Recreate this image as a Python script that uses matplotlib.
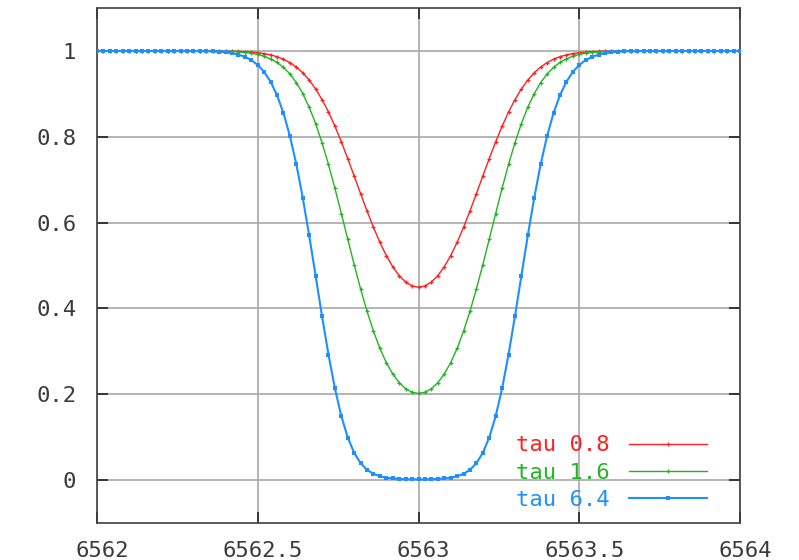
import matplotlib
matplotlib.use("Agg")
import matplotlib.pyplot as plt
from matplotlib.transforms import ScaledTranslation

# wavelengths (Angstrom)
wavelength = [
    6562.00, 6562.02, 6562.04, 6562.06, 6562.08, 6562.10, 6562.12, 6562.14, 6562.16, 6562.18,
    6562.20, 6562.22, 6562.24, 6562.26, 6562.28, 6562.30, 6562.32, 6562.34, 6562.36, 6562.38,
    6562.40, 6562.42, 6562.44, 6562.46, 6562.48, 6562.50, 6562.52, 6562.54, 6562.56, 6562.58,
    6562.60, 6562.62, 6562.64, 6562.66, 6562.68, 6562.70, 6562.72, 6562.74, 6562.76, 6562.78,
    6562.80, 6562.82, 6562.84, 6562.86, 6562.88, 6562.90, 6562.92, 6562.94, 6562.96, 6562.98,
    6563.00,
    6563.02, 6563.04, 6563.06, 6563.08, 6563.10, 6563.12, 6563.14, 6563.16, 6563.18, 6563.20,
    6563.22, 6563.24, 6563.26, 6563.28, 6563.30, 6563.32, 6563.34, 6563.36, 6563.38, 6563.40,
    6563.42, 6563.44, 6563.46, 6563.48, 6563.50, 6563.52, 6563.54, 6563.56, 6563.58, 6563.60,
    6563.62, 6563.64, 6563.66, 6563.68, 6563.70, 6563.72, 6563.74, 6563.76, 6563.78, 6563.80,
    6563.82, 6563.84, 6563.86, 6563.88, 6563.90, 6563.92, 6563.94, 6563.96, 6563.98, 6564.00]

tau_08 = [
    1.0, 1.0, 1.0, 1.0, 1.0, 1.0, 1.0, 1.0, 1.0, 1.0,
    1.0, 1.0, 1.0, 1.0, 1.0, 0.99997, 0.99995, 0.99992, 0.99986, 0.99975,
    0.99959, 0.99933, 0.99891, 0.99827, 0.99730, 0.99585, 0.99374, 0.99071, 0.98648, 0.98064,
    0.97277, 0.96239, 0.94900, 0.93214, 0.91141, 0.88654, 0.85752, 0.82454, 0.78812, 0.74904,
    0.70835, 0.66724, 0.62698, 0.58881, 0.55383, 0.52298, 0.49697, 0.47634, 0.46139, 0.45235,
    0.44933,
    0.45235, 0.46139, 0.47634, 0.49697, 0.52298, 0.55383, 0.58881, 0.62698, 0.66724, 0.70835,
    0.74904, 0.78812, 0.82454, 0.85752, 0.88654, 0.91141, 0.93214, 0.94900, 0.96239, 0.97277,
    0.98064, 0.98648, 0.99071, 0.99374, 0.99585, 0.99730, 0.99827, 0.99891, 0.99933, 0.99959,
    0.99975, 0.99986, 0.99992, 0.99995, 0.99997, 1.0, 1.0, 1.0, 1.0, 1.0,
    1.0, 1.0, 1.0, 1.0, 1.0, 1.0, 1.0, 1.0, 1.0, 1.0]

tau_16 = [
    1.0, 1.0, 1.0, 1.0, 1.0, 1.0, 1.0, 1.0, 1.0, 1.0,
    1.0, 1.0, 1.0, 1.0, 0.99997, 0.99995, 0.99990, 0.99983, 0.99971, 0.99951,
    0.99918, 0.99866, 0.99782, 0.99654, 0.99461, 0.99172, 0.98752, 0.98151, 0.97314, 0.96165,
    0.94628, 0.92619, 0.90060, 0.86889, 0.83067, 0.78595, 0.73534, 0.67987, 0.62113, 0.56106,
    0.50176, 0.44521, 0.39310, 0.34670, 0.30673, 0.27351, 0.24698, 0.22690, 0.21288, 0.20462,
    0.20190,
    0.20462, 0.21288, 0.22690, 0.24698, 0.27351, 0.30673, 0.34670, 0.39310, 0.44521, 0.50176,
    0.56106, 0.62113, 0.67987, 0.73534, 0.78595, 0.83067, 0.86889, 0.90060, 0.92619, 0.94628,
    0.96165, 0.97314, 0.98151, 0.98752, 0.99172, 0.99461, 0.99654, 0.99782, 0.99866, 0.99918,
    0.99951, 0.99971, 0.99983, 0.99990, 0.99995, 0.99997, 1.0, 1.0, 1.0, 1.0,
    1.0, 1.0, 1.0, 1.0, 1.0, 1.0, 1.0, 1.0, 1.0, 1.0]

tau_64 = [
    1.0, 1.0, 1.0, 1.0, 1.0, 1.0, 1.0, 1.0, 1.0, 1.0,
    1.0, 1.0, 0.99997, 0.99994, 0.99988, 0.99979, 0.99962, 0.99933, 0.99884, 0.99804,
    0.99672, 0.99465, 0.99131, 0.98623, 0.97861, 0.96729, 0.95101, 0.92807, 0.89681, 0.85520,
    0.80182, 0.73587, 0.65785, 0.56998, 0.47612, 0.38157, 0.29238, 0.21365, 0.14884, 0.09909,
    0.06339, 0.03929, 0.02388, 0.01445, 0.00885, 0.00560, 0.00372, 0.00265, 0.00205, 0.00175,
    0.00166,
    0.00175, 0.00205, 0.00265, 0.00372, 0.00560, 0.00885, 0.01445, 0.02388, 0.03929, 0.06339,
    0.09909, 0.14884, 0.21365, 0.29238, 0.38157, 0.47612, 0.56998, 0.65785, 0.73587, 0.80182,
    0.85520, 0.89681, 0.92807, 0.95101, 0.96729, 0.97861, 0.98623, 0.99131, 0.99465, 0.99672,
    0.99804, 0.99884, 0.99933, 0.99962, 0.99979, 0.99988, 0.99994, 0.99997, 1.0, 1.0,
    1.0, 1.0, 1.0, 1.0, 1.0, 1.0, 1.0, 1.0, 1.0, 1.0]

series_labels = ["tau 0.8", "tau 1.6", "tau 6.4"]
x_ticks = [6562, 6562.5, 6563, 6563.5, 6564]
x_tick_labels = ["6562", "6562.5", "6563", "6563.5", "6564"]
y_ticks = [0, 0.2, 0.4, 0.6, 0.8, 1]
y_tick_labels = ["0", "0.2", "0.4", "0.6", "0.8", "1"]

plt.rcParams['font.family'] = ['DejaVu Sans Mono']

fig = plt.figure(figsize=(7.99, 5.6), dpi=100)
ax = fig.add_axes([97/799, 1-523/560, (740-97)/799, (523-8)/560])

colors = ['#ff2020', '#22b422', '#1e8fff']
ax.plot(wavelength, tau_08, color=colors[0], lw=1.0, marker='+', ms=3.5, mew=0.9,
        label=series_labels[0], zorder=3)
ax.plot(wavelength, tau_16, color=colors[1], lw=1.0, marker='+', ms=3.5, mew=0.9,
        label=series_labels[1], zorder=4)
ax.plot(wavelength, tau_64, color=colors[2], lw=1.5, marker='s', ms=3.2, mew=0,
        label=series_labels[2], zorder=5)

ax.set_xlim(6562, 6564)
ax.set_ylim(-0.1, 1.1)
ax.set_xticks(x_ticks)
ax.set_xticklabels(x_tick_labels)
ax.set_yticks(y_ticks)
ax.set_yticklabels(y_tick_labels)
ax.grid(True, color='#a8a8a8', lw=1.2)
ax.set_axisbelow(True)
for s in ax.spines.values():
    s.set_color('#404040')
    s.set_linewidth(1.2)
ax.tick_params(direction='in', length=8, width=1.2, color='#202020',
               top=True, right=True, labelsize=16, labelcolor='#3a3a3a')
ax.tick_params(axis='y', pad=15)
ax.tick_params(axis='x', pad=13)
off = ScaledTranslation(5/100, 0, fig.dpi_scale_trans)
for lab in ax.get_xticklabels():
    lab.set_transform(lab.get_transform() + off)

leg = ax.legend(loc='lower right', bbox_to_anchor=((707-97)/643, 0.025),
                borderaxespad=0, borderpad=0, frameon=False,
                markerfirst=False, labelcolor='linecolor', fontsize=16,
                handlelength=3.5, handletextpad=0.9, labelspacing=0.33)
for h in leg.legend_handles:
    h.set_markevery([1])

fig.savefig("out.png", dpi=100)
